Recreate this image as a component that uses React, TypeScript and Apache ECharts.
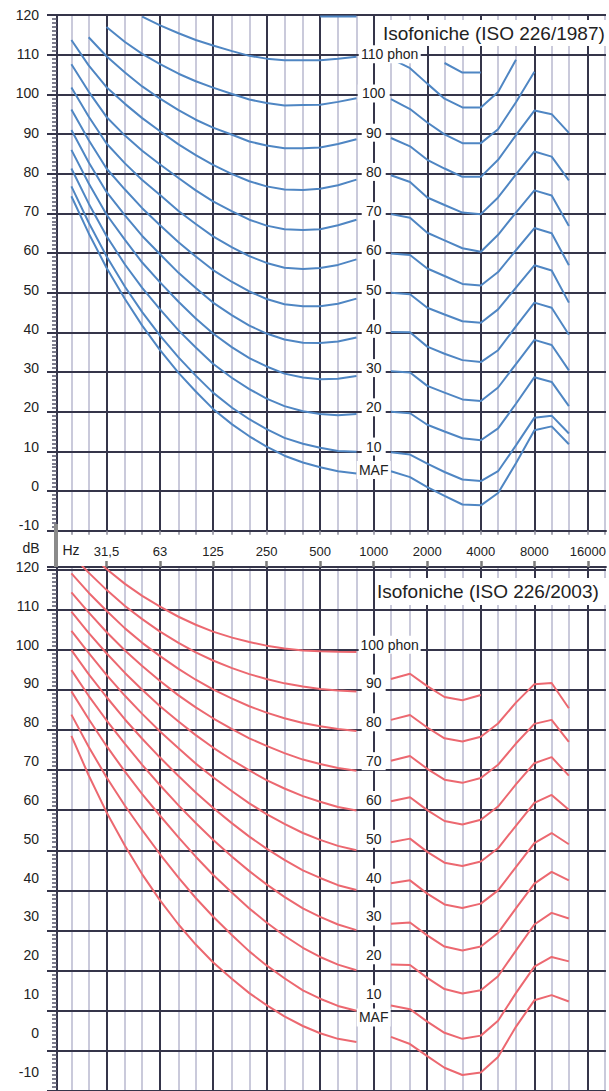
import React, { useEffect, useRef } from 'react';
import * as echarts from 'echarts';

// ---------- axes data ----------
const MAJOR_FREQ = [31.5, 63, 125, 250, 500, 1000, 2000, 4000, 8000, 16000];
const MAJOR_LABELS = ['31,5', '63', '125', '250', '500', '1000', '2000', '4000', '8000', '16000'];
const MINOR_FREQ = [20, 25, 40, 50, 80, 100, 160, 200, 315, 400, 630, 800, 1250, 1600, 2500, 3150, 5000, 6300, 10000, 12500, 20000];
const DB_TICKS = [-10, 0, 10, 20, 30, 40, 50, 60, 70, 80, 90, 100, 110, 120];

const FREQ_LOW = [20, 25, 31.5, 40, 50, 63, 80, 100, 125, 160, 200, 250, 315, 400, 500, 630, 800];
const FREQ_HIGH = [1250, 1600, 2000, 2500, 3150, 4000, 5000, 6300, 8000, 10000, 12500];

// ---------- ISO 226/1987 (blue) ----------
const low87_MAF = [74.3, 65.0, 56.3, 48.4, 41.7, 35.5, 29.8, 25.1, 20.7, 16.8, 13.8, 11.2, 8.9, 7.2, 6.0, 5.0, 4.4];
const low87_10 = [76.8, 67.7, 59.2, 51.5, 45.1, 39.2, 33.7, 29.1, 24.8, 21.0, 18.1, 15.6, 13.4, 11.9, 10.9, 10.1, 9.9];
const low87_20 = [81.3, 72.5, 64.3, 57.1, 51.2, 45.8, 40.5, 36.2, 32.1, 28.5, 25.7, 23.3, 21.4, 20.1, 19.4, 19.1, 19.4];
const low87_30 = [86.0, 77.6, 69.7, 63.3, 57.6, 52.6, 47.7, 43.5, 39.7, 36.2, 33.5, 31.4, 29.6, 28.6, 28.2, 28.3, 29.0];
const low87_40 = [91.0, 82.9, 75.4, 69.5, 64.3, 59.7, 55.0, 51.2, 47.5, 44.3, 41.7, 39.7, 38.2, 37.4, 37.3, 37.7, 38.7];
const low87_50 = [96.2, 88.5, 81.3, 76.0, 71.3, 67.0, 62.7, 59.1, 55.7, 52.7, 50.3, 48.4, 47.1, 46.6, 46.6, 47.2, 48.5];
const low87_60 = [101.7, 94.4, 87.6, 82.6, 78.4, 74.6, 70.6, 67.3, 64.2, 61.4, 59.2, 57.5, 56.3, 56.0, 56.2, 57.0, 58.4];
const low87_70 = [107.6, 100.7, 94.3, 89.6, 85.8, 82.3, 78.9, 75.8, 73.0, 70.5, 68.4, 66.9, 66.0, 65.8, 66.0, 67.0, 68.4];
const low87_80 = [113.7, 107.3, 101.8, 97.6, 94.0, 90.7, 87.4, 84.7, 82.2, 79.9, 78.1, 76.8, 76.0, 75.9, 76.2, 77.1, 78.5];
const low87_90 = [null, 114.4, 109.6, 105.5, 102.0, 98.9, 96.0, 93.6, 91.6, 89.8, 88.1, 87.1, 86.4, 86.4, 86.6, 87.5, 88.7];
const low87_100 = [null, null, 117.0, 113.2, 110.2, 107.6, 105.2, 103.3, 101.7, 100.1, 98.7, 97.8, 97.2, 97.3, 97.4, 98.1, 99.0];
const low87_110 = [null, null, null, null, 119.6, 117.4, 115.4, 113.7, 112.3, 110.9, 109.7, 109.0, 108.6, 108.6, 108.6, 109.0, 109.5];
const low87_120 = [null, null, null, null, null, null, null, null, null, null, null, null, null, null, 119.6, 119.6, 119.6];

const high87_MAF = [5.0, 3.5, 1.0, -1.2, -3.4, -3.6, -0.5, 7.0, 15.3, 16.3, 11.8];
const high87_10 = [9.8, 9.2, 6.9, 4.8, 2.9, 2.5, 5.0, 11.5, 18.5, 19.0, 14.5];
const high87_20 = [20.0, 19.6, 16.7, 15.0, 13.3, 12.8, 15.8, 22.0, 28.7, 27.5, 21.4];
const high87_30 = [30.2, 29.9, 26.5, 24.8, 23.1, 22.7, 26.1, 32.0, 38.1, 36.8, 30.4];
const high87_40 = [40.1, 40.0, 36.4, 34.6, 33.0, 32.5, 35.5, 41.5, 47.5, 46.2, 39.4];
const high87_50 = [50.0, 49.6, 46.2, 44.5, 42.8, 42.4, 45.8, 51.3, 56.9, 55.6, 47.5];
const high87_60 = [59.9, 59.5, 56.1, 54.2, 52.2, 51.8, 55.2, 60.7, 66.3, 65.0, 56.9];
const high87_70 = [69.8, 68.9, 65.1, 63.2, 61.2, 60.3, 64.6, 70.2, 75.8, 74.5, 66.8];
const high87_80 = [79.6, 77.9, 74.0, 72.1, 70.2, 69.8, 74.0, 79.8, 85.6, 84.3, 78.3];
const high87_90 = [89.0, 86.9, 83.5, 81.3, 79.2, 79.2, 83.5, 89.7, 95.9, 95.0, 90.3];
const high87_100 = [98.8, 96.3, 92.9, 89.9, 87.7, 87.7, 91.2, 98.0, 105.7, null, null];
const high87_110 = [109.0, 106.6, 102.7, 98.9, 96.7, 96.7, 100.6, 108.7, null, null, null];
const high87_120 = [null, null, null, 107.9, 105.5, 105.5, null, null, null, null, null];

// ---------- ISO 226/2003 (red) ----------
const low03_MAF = [78.5, 68.7, 59.5, 51.1, 44.0, 37.5, 31.5, 26.5, 22.1, 17.9, 14.4, 11.4, 8.6, 6.2, 4.4, 3.0, 2.2];
const low03_10 = [83.8, 75.8, 68.2, 61.1, 55.0, 49.0, 43.2, 38.1, 33.5, 28.8, 24.8, 21.3, 18.1, 15.1, 13.0, 11.2, 10.0];
const low03_20 = [89.6, 82.7, 76.0, 69.6, 64.0, 58.6, 53.2, 48.4, 43.9, 39.4, 35.5, 32.0, 28.7, 25.7, 23.4, 21.5, 20.1];
const low03_30 = [94.9, 88.5, 82.4, 76.5, 71.3, 66.2, 61.2, 56.8, 52.6, 48.4, 44.8, 41.5, 38.4, 35.5, 33.4, 31.5, 30.1];
const low03_40 = [99.9, 93.9, 88.2, 82.6, 77.8, 73.1, 68.5, 64.4, 60.6, 56.7, 53.4, 50.4, 47.6, 45.0, 43.1, 41.3, 40.1];
const low03_50 = [104.7, 99.2, 93.7, 88.5, 84.0, 79.6, 75.4, 71.6, 68.2, 64.7, 61.7, 59.0, 56.6, 54.3, 52.6, 51.1, 50.0];
const low03_60 = [109.5, 104.2, 99.1, 94.2, 90.0, 85.9, 82.1, 78.7, 75.6, 72.5, 69.9, 67.5, 65.4, 63.5, 62.1, 60.8, 59.9];
const low03_70 = [114.3, 109.3, 104.4, 99.8, 95.9, 92.2, 88.6, 85.6, 82.9, 80.2, 77.9, 76.0, 74.2, 72.6, 71.5, 70.5, 69.8];
const low03_80 = [119.0, 114.2, 109.7, 105.3, 101.7, 98.4, 95.2, 92.5, 90.1, 87.8, 85.9, 84.3, 82.9, 81.7, 80.9, 80.2, 79.7];
const low03_90 = [123.7, 119.2, 114.9, 110.9, 107.6, 104.5, 101.7, 99.3, 97.3, 95.4, 93.9, 92.7, 91.6, 90.8, 90.2, 89.8, 89.6];
const low03_100 = [128.4, 124.2, 120.1, 116.4, 113.4, 110.7, 108.2, 106.2, 104.5, 103.0, 101.9, 101.0, 100.3, 99.8, 99.6, 99.5, 99.4];

const high03_MAF = [3.5, 1.7, -1.3, -4.2, -6.0, -5.4, -1.5, 6.0, 12.6, 13.9, 12.3];
const high03_10 = [11.3, 10.4, 7.3, 4.5, 3.0, 3.8, 7.5, 14.4, 21.0, 23.4, 22.3];
const high03_20 = [21.5, 21.4, 18.2, 15.4, 14.3, 15.1, 18.6, 25.0, 31.5, 34.4, 33.0];
const high03_30 = [31.7, 32.0, 28.8, 26.0, 25.0, 26.0, 29.4, 35.5, 41.7, 44.6, 42.5];
const high03_40 = [41.8, 42.5, 39.2, 36.5, 35.6, 36.7, 40.0, 45.8, 51.8, 54.3, 51.5];
const high03_50 = [52.0, 52.9, 49.6, 46.9, 46.1, 47.2, 50.5, 56.1, 61.8, 63.8, 60.1];
const high03_60 = [62.2, 63.2, 60.0, 57.3, 56.4, 57.6, 60.9, 66.4, 71.7, 73.2, 68.6];
const high03_70 = [72.3, 73.5, 70.3, 67.6, 66.8, 68.0, 71.3, 76.6, 81.5, 82.5, 77.0];
const high03_80 = [82.5, 83.7, 80.6, 77.9, 77.1, 78.3, 81.6, 86.8, 91.4, 91.7, 85.4];
const high03_90 = [92.7, 94.0, 90.9, 88.2, 87.4, 88.7, null, null, null, null, null];
const high03_100: (number | null)[] = [];

// ---------- curve labels ----------
const LABELS_1987 = ['110 phon', '100', '90', '80', '70', '60', '50', '40', '30', '20', '10', 'MAF'];
const LABEL_LEVELS_1987 = [110, 100, 90, 80, 70, 60, 50, 40, 30, 20, 10, 4];
const LABELS_2003 = ['100 phon', '90', '80', '70', '60', '50', '40', '30', '20', '10', 'MAF'];
const LABEL_LEVELS_2003 = [100, 90, 80, 70, 60, 50, 40, 30, 20, 10, 4];
const LABEL_FREQ = 1000;

const CURVES_1987 = [
  ['MAF', low87_MAF, high87_MAF], ['10', low87_10, high87_10], ['20', low87_20, high87_20],
  ['30', low87_30, high87_30], ['40', low87_40, high87_40], ['50', low87_50, high87_50],
  ['60', low87_60, high87_60], ['70', low87_70, high87_70], ['80', low87_80, high87_80],
  ['90', low87_90, high87_90], ['100', low87_100, high87_100], ['110', low87_110, high87_110],
  ['120', low87_120, high87_120],
] as const;
const CURVES_2003 = [
  ['MAF', low03_MAF, high03_MAF], ['10', low03_10, high03_10], ['20', low03_20, high03_20],
  ['30', low03_30, high03_30], ['40', low03_40, high03_40], ['50', low03_50, high03_50],
  ['60', low03_60, high03_60], ['70', low03_70, high03_70], ['80', low03_80, high03_80],
  ['90', low03_90, high03_90], ['100', low03_100, high03_100],
] as const;

// ---------- styles ----------
const BLUE = '#4f86c3';
const RED = '#ec6870';
const MAJOR = '#35354a';
const MINOR = '#cacadb';
const FONT = '"Liberation Sans", Arial, sans-serif';
const X_MIN = 16.6;
const X_MAX = 20200;

function curveData(low: readonly (number | null)[], high: readonly (number | null)[]) {
  const pts: any[] = [];
  FREQ_LOW.forEach((f, i) => { if (low[i] != null) pts.push([f, low[i]]); });
  pts.push([1000, '-']);
  FREQ_HIGH.forEach((f, i) => { if (high[i] != null) pts.push([f, high[i]]); });
  return pts;
}

function xAxisDef(gridIndex: number, major: boolean, position: 'top' | 'bottom', withLabels: boolean) {
  const vals = major ? MAJOR_FREQ : MINOR_FREQ;
  return {
    gridIndex,
    type: 'log',
    logBase: 2,
    min: X_MIN,
    max: X_MAX,
    position,
    z: major ? 2 : 0,
    axisLine: { show: major, onZero: false, lineStyle: { color: MAJOR, width: 2 } },
    axisTick: {
      show: position === 'bottom' || (major && withLabels),
      customValues: vals,
      length: position === 'bottom' ? 4 : 6,
      lineStyle: { color: position === 'bottom' ? '#8a8a99' : '#7d7d7d', width: position === 'bottom' ? 1.5 : 2.5 },
    },
    axisLabel: withLabels
      ? {
          show: true,
          customValues: MAJOR_FREQ,
          margin: 9,
          fontSize: 13,
          color: '#222',
          fontFamily: FONT,
          formatter: (v: number) => {
            let best = 0;
            MAJOR_FREQ.forEach((f, i) => { if (Math.abs(Math.log(f / v)) < Math.abs(Math.log(MAJOR_FREQ[best] / v))) best = i; });
            return MAJOR_LABELS[best];
          },
        }
      : { show: false },
    splitLine: { show: true, lineStyle: { color: major ? MAJOR : MINOR, width: 2 } },
  };
}

function yGridAxis(gridIndex: number, max: number) {
  return {
    gridIndex,
    type: 'value',
    min: -10,
    max,
    interval: 10,
    position: 'left',
    z: 2,
    axisLine: { show: true, onZero: false, lineStyle: { color: MAJOR, width: 2 } },
    axisTick: { show: true, length: 10, lineStyle: { color: MAJOR, width: 2 } },
    minorTick: { show: true, splitNumber: 10, length: 5, lineStyle: { color: '#55556a', width: 1.5 } },
    axisLabel: { show: false },
    splitLine: { show: true, lineStyle: { color: MAJOR, width: 2 } },
  };
}

function yLabelAxis(gridIndex: number, min: number) {
  return {
    gridIndex,
    type: 'value',
    min,
    max: 120,
    position: 'left',
    z: 2,
    axisLine: { show: false, onZero: false },
    axisTick: { show: false },
    splitLine: { show: false },
    axisLabel: { show: true, customValues: DB_TICKS, margin: 18, fontSize: 14, color: '#222', fontFamily: FONT },
  };
}

function boxWidth(t: string) {
  if (t.indexOf('phon') >= 0) return 62;
  if (t === 'MAF') return 34;
  return t.length * 8 + 8;
}

function labelSeries(xAxisIndex: number, yAxisIndex: number, texts: string[], levels: number[]) {
  return {
    type: 'scatter',
    xAxisIndex,
    yAxisIndex,
    symbol: 'rect',
    silent: true,
    z: 6,
    itemStyle: { color: '#ffffff', opacity: 1 },
    label: {
      show: true,
      position: 'inside',
      formatter: '{b}',
      fontSize: 14,
      color: '#222222',
      fontFamily: FONT,
    },
    data: texts.map((t, i) => {
      const phon = t.indexOf('phon') >= 0;
      return {
        name: t,
        value: [LABEL_FREQ, levels[i]],
        symbolSize: [boxWidth(t), 18],
        symbolOffset: phon ? [16, 0] : [0, 0],
      };
    }),
  };
}

function buildOption() {
  const series: any[] = [];
  CURVES_1987.forEach(([name, low, high]) => {
    series.push({
      type: 'line', name: '1987 ' + name, xAxisIndex: 1, yAxisIndex: 0,
      data: curveData(low, high), symbol: 'none', silent: true, z: 3,
      lineStyle: { color: BLUE, width: 2 }, connectNulls: false,
    });
  });
  CURVES_2003.forEach(([name, low, high]) => {
    series.push({
      type: 'line', name: '2003 ' + name, xAxisIndex: 3, yAxisIndex: 2,
      data: curveData(low, high), symbol: 'none', silent: true, z: 3,
      lineStyle: { color: RED, width: 2 }, connectNulls: false,
    });
  });
  series.push(labelSeries(1, 1, LABELS_1987, LABEL_LEVELS_1987));
  series.push(labelSeries(3, 3, LABELS_2003, LABEL_LEVELS_2003));

  return {
    animation: false,
    backgroundColor: '#ffffff',
    textStyle: { fontFamily: FONT },
    grid: [
      { left: 57, right: 3, top: 15, height: 515.7 },
      { left: 57, right: 3, top: 567, height: 531.5 },
    ],
    xAxis: [
      xAxisDef(0, false, 'bottom', false),
      xAxisDef(0, true, 'bottom', false),
      xAxisDef(1, false, 'top', false),
      xAxisDef(1, true, 'top', true),
    ],
    yAxis: [
      yGridAxis(0, 120),
      yLabelAxis(0, -11.45),
      yGridAxis(1, 120.6),
      yLabelAxis(1, -14.95),
    ],
    series,
    graphic: [
      { type: 'rect', z: 20, shape: { x: 54, y: 524, width: 4, height: 43 }, style: { fill: '#8a8a8a' } },
      { type: 'text', z: 20, style: { x: 31, y: 548, text: 'dB', fill: '#222', font: '14px ' + FONT, align: 'center', verticalAlign: 'middle' } },
      { type: 'text', z: 20, style: { x: 71, y: 550, text: 'Hz', fill: '#222', font: '14px ' + FONT, align: 'center', verticalAlign: 'middle' } },
      { type: 'rect', z: 20, shape: { x: 379, y: 20, width: 230, height: 26 }, style: { fill: '#ffffff' } },
      { type: 'text', z: 21, style: { x: 383, y: 33, text: 'Isofoniche (ISO 226/1987)', fill: '#222', font: '19px ' + FONT, align: 'left', verticalAlign: 'middle' } },
      { type: 'rect', z: 20, shape: { x: 375, y: 578, width: 234, height: 27 }, style: { fill: '#ffffff' } },
      { type: 'text', z: 21, style: { x: 377, y: 591, text: 'Isofoniche (ISO 226/2003)', fill: '#222', font: '19px ' + FONT, align: 'left', verticalAlign: 'middle' } },
    ],
  };
}

export default function App() {
  const ref = useRef<HTMLDivElement>(null);
  useEffect(() => {
    if (!ref.current) return;
    const chart = echarts.init(ref.current, null, { renderer: 'svg' });
    chart.setOption(buildOption() as any);
    return () => chart.dispose();
  }, []);
  return <div ref={ref} style={{ position: 'absolute', left: 0, top: 0, width: 609, height: 1091 }} />;
}
